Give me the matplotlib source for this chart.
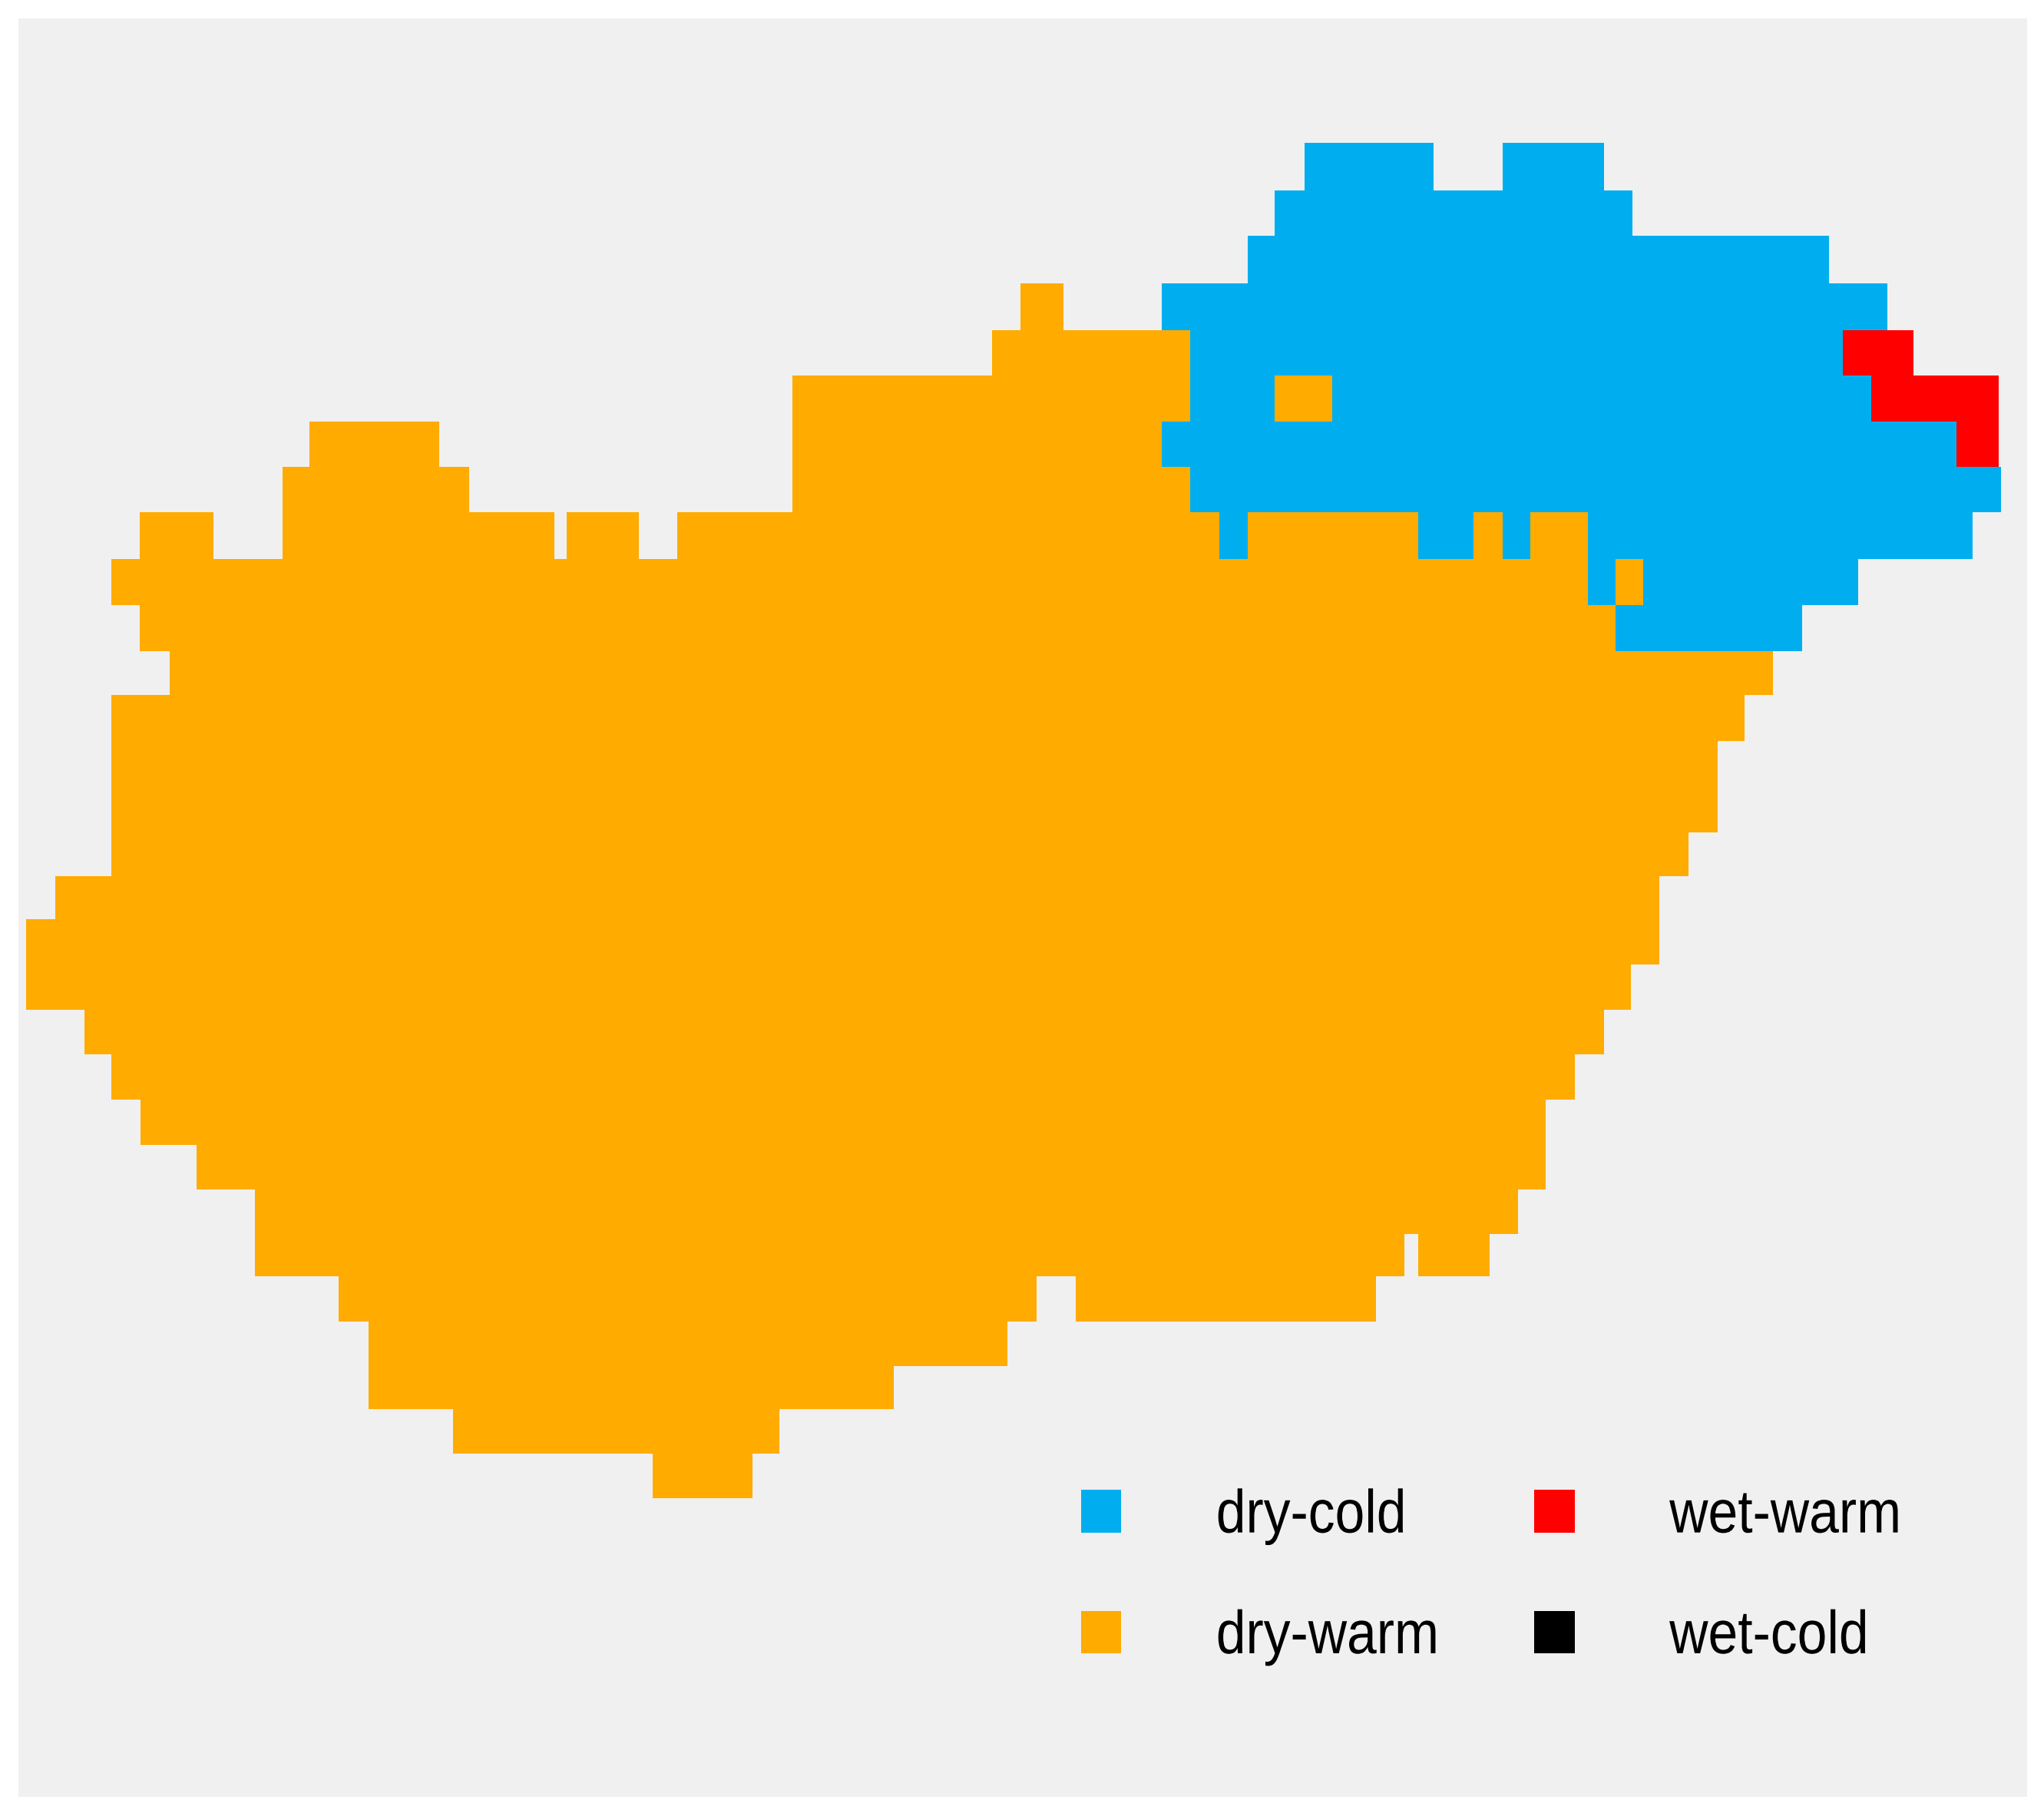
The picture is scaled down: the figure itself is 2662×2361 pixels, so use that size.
import matplotlib
matplotlib.use("Agg")
import matplotlib.pyplot as plt
from matplotlib.patches import Patch
from matplotlib.patheffects import AbstractPathEffect
from matplotlib.transforms import Affine2D

# map grid, in pixels of the source raster
row_edges = [186, 248, 307, 369, 430, 489, 549, 608, 667, 728, 788, 848, 905, 965, 1024, 1084,
             1141, 1197, 1256, 1315, 1373, 1432, 1491, 1549, 1607, 1662, 1721, 1779, 1835, 1893, 1951]

# row index -> runs of cells (from, to)
dry_cold = {
    0: [(1699, 1867), (1957, 2089)],
    1: [(1660, 2126)],
    2: [(1625, 2382)],
    3: [(1513, 2458)],
    4: [(1550, 2400)],
    5: [(1550, 1660), (1735, 2437)],
    6: [(1513, 2548)],
    7: [(1550, 2606)],
    8: [(1588, 1625), (1847, 1919), (1957, 1993), (2068, 2569)],
    9: [(2068, 2104), (2140, 2420)],
    10: [(2104, 2347)],
}
wet_warm = {
    4: [(2400, 2492)],
    5: [(2437, 2603)],
    6: [(2548, 2603)],
}
dry_warm = {
    3: [(1329, 1385)],
    4: [(1292, 1550)],
    5: [(1032, 1550), (1660, 1735)],
    6: [(403, 572), (1032, 1513)],
    7: [(368, 611), (1032, 1550)],
    8: [(182, 278), (368, 722), (738, 832), (882, 1588), (1625, 1847), (1919, 1957), (1993, 2068)],
    9: [(145, 2068), (2104, 2140)],
    10: [(182, 2104)],
    11: [(221, 2309)],
    12: [(145, 2272)],
    13: [(145, 2237)],
    14: [(145, 2237)],
    15: [(145, 2199)],
    16: [(72, 2161)],
    17: [(34, 2161)],
    18: [(34, 2124)],
    19: [(110, 2089)],
    20: [(145, 2051)],
    21: [(183, 2013)],
    22: [(256, 2013)],
    23: [(332, 1977)],
    24: [(332, 1829), (1847, 1940)],
    25: [(441, 1350), (1401, 1792)],
    26: [(480, 1312)],
    27: [(480, 1164)],
    28: [(590, 1015)],
    29: [(850, 980)],
}
wet_cold = {}

classes = [dry_cold, dry_warm, wet_warm, wet_cold]
labels = ["dry-cold", "dry-warm", "wet-warm", "wet-cold"]
colors = ["#00aeef", "#ffab00", "#ff0000", "#000000"]


# the labels in the original are squeezed sideways
class Squeeze(AbstractPathEffect):
    def __init__(self, factor):
        self.factor = factor

    def draw_path(self, renderer, gc, tpath, affine, rgbFace=None):
        renderer.draw_path(gc, tpath, Affine2D().scale(self.factor, 1) + affine, rgbFace)


W, H = 2662, 2361
fig = plt.figure(figsize=(W / 100, H / 100), dpi=100, facecolor="white")
ax = fig.add_axes([24 / W, 1 - 2340 / H, (2640 - 24) / W, (2340 - 24) / H])

for runs, color in zip(classes, colors):
    for row, spans in runs.items():
        top = row_edges[row]
        ax.broken_barh([(a, b - a) for a, b in spans], (top, row_edges[row + 1] - top),
                       facecolor=color, edgecolor="none", antialiased=False)

ax.set_xlim(24, 2640)
ax.set_ylim(2340, 24)
ax.axis("off")
ax.add_patch(plt.Rectangle((0, 0), 1, 1, transform=ax.transAxes, facecolor="#f0f0f0", zorder=0))

handles = [Patch(facecolor=c, edgecolor="none") for c in colors]
leg = ax.legend(handles, labels, ncol=2, frameon=False, loc="lower left",
                bbox_to_anchor=(1408, 2170), bbox_transform=ax.transData, borderpad=0, borderaxespad=0,
                prop={"family": "Liberation Sans", "size": 57},
                handlelength=0.66, handleheight=0.70, handletextpad=1.56, columnspacing=1.07, labelspacing=1.04)
for t in leg.get_texts():
    t.set_path_effects([Squeeze(0.88)])

fig.savefig("out.png", dpi=100)
